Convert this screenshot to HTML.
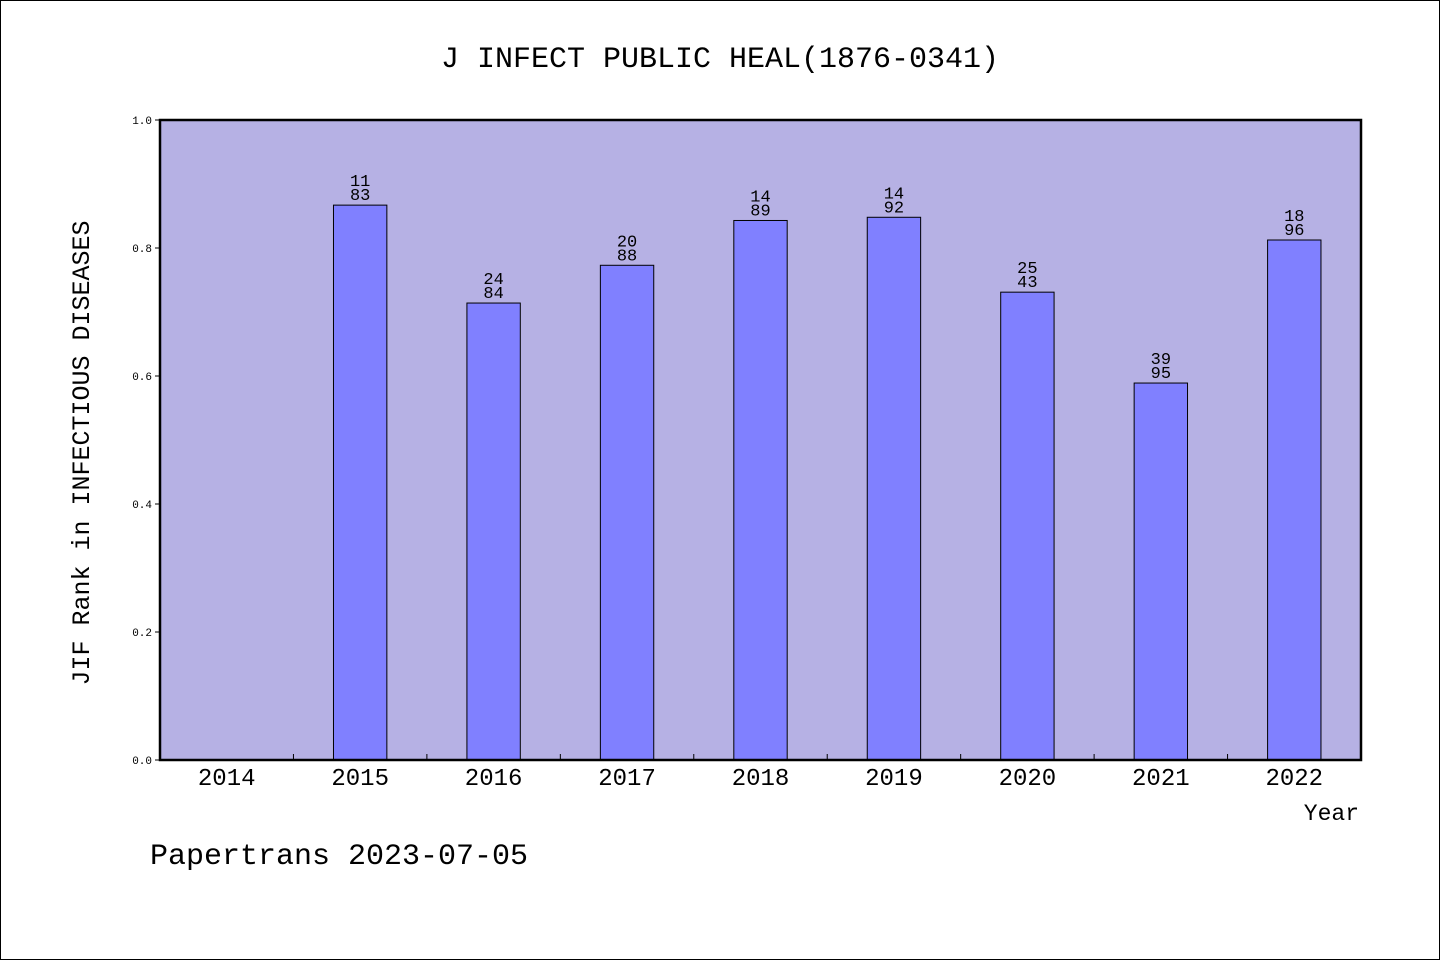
<!DOCTYPE html>
<html><head><meta charset="utf-8"><style>
body{margin:0;background:#fff}
svg{display:block}
text{font-family:"WenQuanYi Zen Hei","Liberation Mono",monospace;fill:#000}
</style></head><body>
<svg width="1440" height="960" id="svg">
<rect x="0.5" y="0.5" width="1439" height="959" fill="#fff" stroke="#000"/>
<text x="720" y="67" font-size="30" text-anchor="middle">J INFECT PUBLIC HEAL(1876-0341)</text>
<rect x="160" y="120" width="1201" height="640" fill="#b6b1e4"/>
<g id="bars"></g>
<rect x="160" y="120" width="1201" height="640" fill="none" stroke="#000" stroke-width="2.5"/>
<g id="axes"></g>
<text x="89" y="453" font-size="25" text-anchor="middle" transform="rotate(-90 89 453)">JIF Rank in INFECTIOUS DISEASES</text>
<text x="1359" y="820" font-size="23" text-anchor="end">Year</text>
<text x="150" y="864" font-size="30">Papertrans 2023-07-05</text>
</svg>
<script>
const categories=["2014","2015","2016","2017","2018","2019","2020","2021","2022"];
const values=[null,0.867,0.714,0.773,0.843,0.848,0.731,0.589,0.8125];
const ranks=[null,11,24,20,14,14,25,39,18];
const totals=[null,83,84,88,89,92,43,95,96];
const yTicks=["0.0","0.2","0.4","0.6","0.8","1.0"];
const NS="http://www.w3.org/2000/svg";
const X0=160,W=1201,Y0=760,H=640,band=W/categories.length;
const xs=i=>X0+band*(i+0.5);
const ys=v=>Y0-v*H;
const bars=document.getElementById('bars'),axes=document.getElementById('axes');
function mk(tag,attrs,parent,txt){const e=document.createElementNS(NS,tag);for(const k in attrs)e.setAttribute(k,attrs[k]);if(txt!==undefined)e.textContent=txt;parent.appendChild(e);return e;}
categories.forEach((c,i)=>{
  if(values[i]!=null){
    const v=values[i];
    const bw=band*0.4;
    const r=mk('rect',{x:xs(i)-bw/2,y:ys(v),width:bw,height:Y0-ys(v),fill:'#8080ff',stroke:'#000','stroke-width':1},bars);
    
    
    const t1=mk('text',{x:xs(i),y:ys(v)-19,'font-size':17,'text-anchor':'middle'},bars,String(ranks[i]));
    
    
    const t2=mk('text',{x:xs(i),y:ys(v)-5,'font-size':17,'text-anchor':'middle'},bars,String(totals[i]));
    
    
  }
  const lb=mk('text',{x:xs(i),y:785,'font-size':24,'text-anchor':'middle'},axes,c);
  
  
  if(i>0){const tk=mk('line',{x1:X0+band*i,x2:X0+band*i,y1:Y0,y2:Y0-6,stroke:'#000'},axes);
  
  }
});
yTicks.forEach((t,i)=>{
  const v=parseFloat(t);
  const tk=mk('line',{x1:X0-5,x2:X0,y1:ys(v),y2:ys(v),stroke:'#000'},axes);
  
  
  const lb=mk('text',{x:X0-8,y:ys(v)+4,'font-size':11,'text-anchor':'end'},axes,t);
  
  
});
</script>
</body></html>
